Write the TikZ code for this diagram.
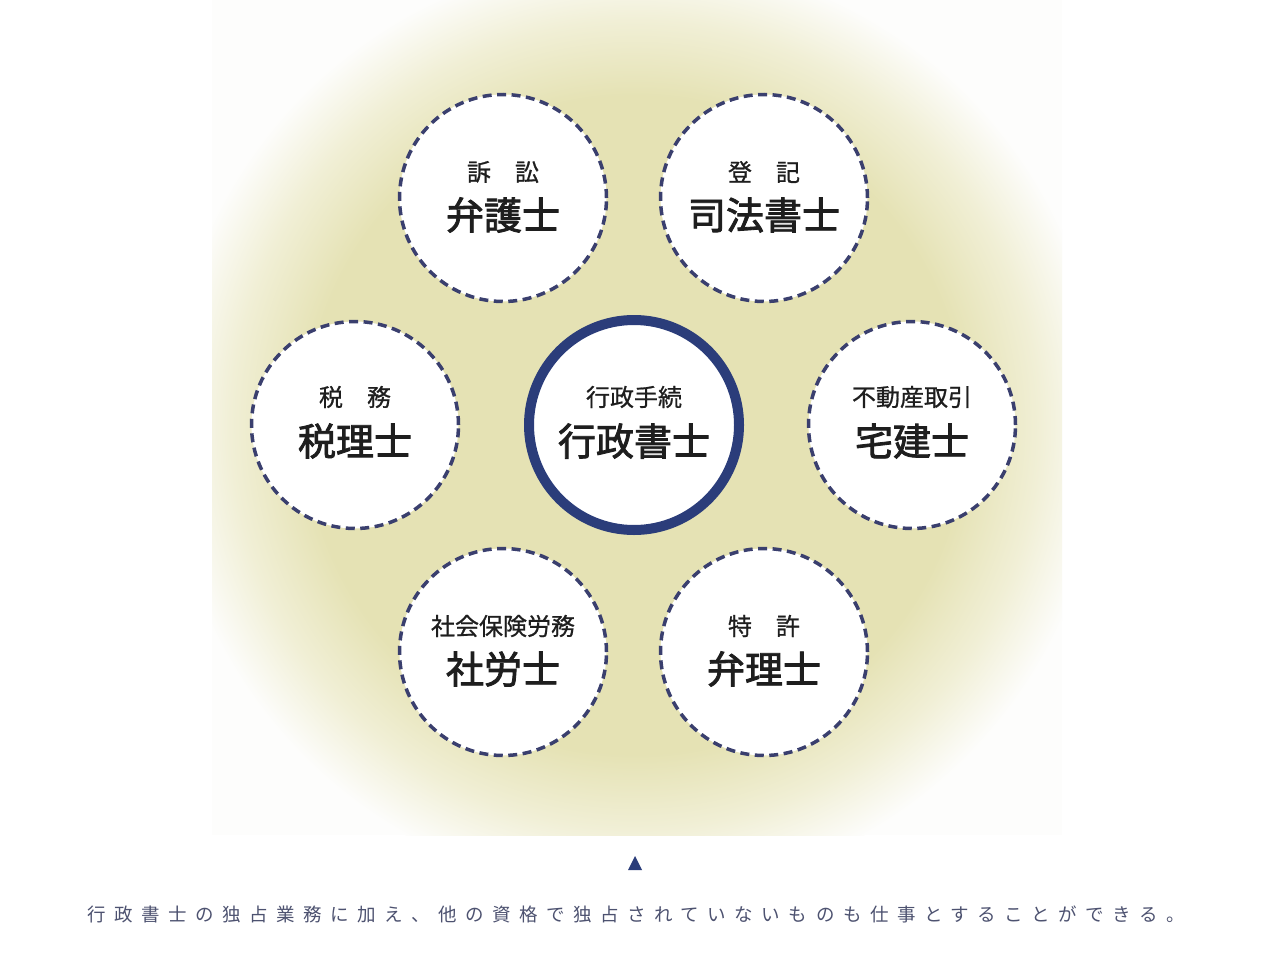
\documentclass[tikz,border=0pt]{standalone}
\usepackage{fontspec}
\setmainfont{Noto Sans CJK JP}
\newfontfamily\capfont[LetterSpace=46]{Noto Sans CJK JP}
\newfontfamily\bigfont[FakeBold=2.2]{Noto Sans CJK JP}
\newfontfamily\smallfont[FakeBold=0.8]{Noto Sans CJK JP}
\definecolor{glowc}{HTML}{E5E2B4}
\definecolor{faint}{HTML}{FDFDFC}
\definecolor{dashc}{HTML}{3A3F6E}
\definecolor{navy}{HTML}{2B3D7A}
\definecolor{capc}{HTML}{4D5270}
\definecolor{txt}{HTML}{1E1E1E}
\pgfdeclareradialshading{glow}{\pgfpoint{0bp}{0bp}}{color(0bp)=(glowc); color(17.5bp)=(glowc); color(21.5bp)=(glowc!55!white); color(25bp)=(faint); color(50bp)=(faint)}
\begin{document}
\begin{tikzpicture}[x=1pt,y=-1pt,
  subc/.style={circle, draw=dashc, line width=3.5pt, dash pattern=on 9pt off 5.5pt, fill=white, minimum size=207pt, inner sep=0pt},
  mainc/.style={circle, draw=navy, line width=10pt, fill=white, minimum size=210pt, inner sep=0pt},
  smalllbl/.style={text=txt, font=\smallfont\fontsize{24}{28}\selectfont, inner sep=0pt},
  biglbl/.style={text=txt, font=\bigfont\fontsize{38}{44}\selectfont, inner sep=0pt},
  capstyle/.style={text=capc, font=\capfont\fontsize{18.5}{22}\selectfont, inner sep=0pt}]
\useasboundingbox (0,0) rectangle (1276,958);
\fill[white] (0,0) rectangle (1276,958);
\begin{scope}
  \clip (212,0) rectangle (1062,835);
  \fill[faint] (212,0) rectangle (1062,835);
  \shade[shading=glow] (635,425) circle (470);
\end{scope}
% circles
\node[mainc] (gyosei) at (634,425) {};
\node[subc] (bengo) at (503,198) {};
\node[subc] (shiho) at (764,198) {};
\node[subc] (zeiri) at (355,425) {};
\node[subc] (takken) at (912,425) {};
\node[subc] (sharo) at (503,652) {};
\node[subc] (benri) at (764,652) {};
% labels
\node[smalllbl] (gyosei-s) at ([yshift=28pt]gyosei.center) {行政手続};
\node[biglbl]   (gyosei-b) at ([yshift=-16pt]gyosei.center) {行政書士};
\node[smalllbl] (bengo-s) at ([yshift=26pt]bengo.center) {訴　訟};
\node[biglbl]   (bengo-b) at ([yshift=-17pt]bengo.center) {弁護士};
\node[smalllbl] (shiho-s) at ([yshift=26pt]shiho.center) {登　記};
\node[biglbl]   (shiho-b) at ([yshift=-17pt]shiho.center) {司法書士};
\node[smalllbl] (zeiri-s) at ([yshift=28pt]zeiri.center) {税　務};
\node[biglbl]   (zeiri-b) at ([yshift=-16pt]zeiri.center) {税理士};
\node[smalllbl] (takken-s) at ([yshift=28pt]takken.center) {不動産取引};
\node[biglbl]   (takken-b) at ([yshift=-16pt]takken.center) {宅建士};
\node[smalllbl] (sharo-s) at ([yshift=26pt]sharo.center) {社会保険労務};
\node[biglbl]   (sharo-b) at ([yshift=-17pt]sharo.center) {社労士};
\node[smalllbl] (benri-s) at ([yshift=26pt]benri.center) {特　許};
\node[biglbl]   (benri-b) at ([yshift=-17pt]benri.center) {弁理士};
% triangle and caption
\fill[navy] (628,870) -- (642,870) -- (635,856) -- cycle;
\node[capstyle] (caption) at (636,914) {行政書士の独占業務に加え、他の資格で独占されていないものも仕事とすることができる。};
\end{tikzpicture}
\end{document}
